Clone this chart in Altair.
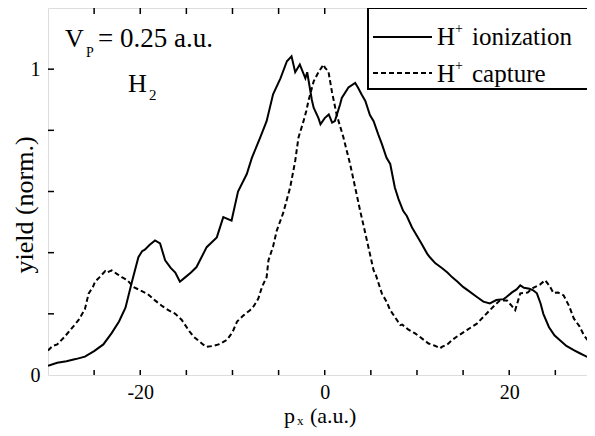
import altair as alt
import pandas as pd

# ---- data ----
ion_x = [-30.0, -29.0, -28.0, -27.0, -26.0, -25.0, -24.0, -23.1, -22.3, -21.6, -20.9, -20.2, -19.8, -19.5,
         -19.0, -18.4, -17.85, -17.3, -16.7, -16.2, -15.7, -15.1, -14.5, -13.9, -12.8, -11.7, -11.0, -10.1,
         -9.4, -8.45, -7.9, -7.0, -6.3, -5.6, -4.8, -4.1, -3.6, -3.2, -2.7, -2.1, -1.9, -1.4, -1.2, -0.68,
         -0.46, 0.0, 0.44, 0.8, 1.1, 1.67, 1.85, 2.57, 3.3, 3.6, 4.0, 4.4, 4.9, 5.3, 5.8, 6.2, 6.7, 7.1, 7.6,
         8.0, 8.5, 8.9, 9.45, 10.5, 11.1, 11.4, 12.0, 12.7, 13.3, 13.8, 14.4, 15.0, 15.6, 16.5, 17.2, 17.9,
         18.6, 19.4, 19.7, 20.3, 20.8, 21.2, 21.6, 22.2, 22.6, 23.0, 23.4, 23.7, 24.3, 24.9, 25.5, 26.2, 27.0,
         27.6, 28.4, 29.1, 29.3]
ion_y = [0.030, 0.040, 0.045, 0.052, 0.060, 0.078, 0.100, 0.137, 0.175, 0.220, 0.305, 0.385, 0.405, 0.410,
         0.425, 0.440, 0.430, 0.375, 0.350, 0.335, 0.305, 0.320, 0.335, 0.353, 0.418, 0.450, 0.516, 0.505,
         0.600, 0.657, 0.710, 0.776, 0.830, 0.918, 0.970, 1.026, 1.042, 0.990, 1.015, 0.970, 0.990, 0.900,
         0.874, 0.840, 0.820, 0.840, 0.852, 0.825, 0.830, 0.885, 0.906, 0.940, 0.955, 0.940, 0.917, 0.896,
         0.850, 0.830, 0.787, 0.755, 0.710, 0.690, 0.613, 0.575, 0.537, 0.520, 0.483, 0.429, 0.397, 0.385,
         0.365, 0.350, 0.335, 0.320, 0.305, 0.288, 0.275, 0.255, 0.240, 0.234, 0.245, 0.248, 0.255, 0.270,
         0.280, 0.293, 0.285, 0.282, 0.277, 0.267, 0.234, 0.200, 0.157, 0.130, 0.114, 0.095, 0.081, 0.072,
         0.060, 0.052, 0.050]

cap_x = [-30.0, -29.5, -29.0, -28.2, -27.5, -26.7, -26.0, -25.6, -25.1, -24.9, -24.4, -23.8, -23.6, -23.1,
         -22.5, -22.0, -21.4, -20.75, -20.0, -19.2, -18.4, -17.6, -16.95, -16.2, -15.5, -14.6, -14.2, -13.2,
         -12.8, -12.1, -11.5, -10.6, -10.0, -9.5, -8.8, -8.1, -7.7, -7.2, -6.8, -6.3, -6.1, -5.6, -5.2, -4.5,
         -3.75, -3.2, -2.85, -2.3, -2.0, -1.77, -1.2, -0.68, -0.13, 0.04, 0.4, 0.77, 1.3, 2.0, 2.75, 3.3, 3.84,
         4.2, 4.9, 5.3, 5.5, 6.2, 6.7, 7.1, 8.2, 8.4, 9.0, 9.8, 10.3, 11.25, 12.0, 12.5, 12.7, 13.3, 13.8,
         14.3, 15.4, 16.5, 17.2, 17.9, 18.5, 19.0, 19.75, 20.3, 20.65, 21.2, 22.0, 22.6, 23.3, 23.9, 24.4,
         24.8, 25.3, 25.9, 26.5, 27.0, 27.6, 28.1, 28.6, 29.1, 29.3]
cap_y = [0.080, 0.095, 0.100, 0.125, 0.150, 0.179, 0.215, 0.266, 0.290, 0.305, 0.320, 0.340, 0.335, 0.342,
         0.330, 0.320, 0.310, 0.288, 0.277, 0.265, 0.244, 0.225, 0.212, 0.200, 0.180, 0.140, 0.125, 0.100,
         0.092, 0.095, 0.100, 0.115, 0.140, 0.175, 0.195, 0.212, 0.225, 0.250, 0.288, 0.320, 0.375, 0.420,
         0.472, 0.530, 0.613, 0.700, 0.776, 0.830, 0.863, 0.896, 0.960, 0.990, 1.015, 1.004, 0.993, 0.928,
         0.850, 0.780, 0.690, 0.613, 0.537, 0.490, 0.396, 0.342, 0.331, 0.266, 0.240, 0.212, 0.163, 0.165,
         0.150, 0.136, 0.125, 0.103, 0.095, 0.087, 0.092, 0.100, 0.114, 0.125, 0.147, 0.168, 0.190, 0.212,
         0.230, 0.244, 0.244, 0.225, 0.212, 0.267, 0.270, 0.285, 0.295, 0.310, 0.290, 0.268, 0.270, 0.260,
         0.225, 0.185, 0.160, 0.130, 0.110, 0.090, 0.085]

x_minor_ticks = [-25, -20, -15, -10, -5, 0, 5, 10, 15, 20, 25]
y_minor_ticks = [0.2, 0.4, 0.6, 0.8, 1.0]
x_labels = [-20, 0, 20]
y_labels = [0, 1]

W, H = 547, 367
FONT = "Liberation Serif"
XDOM = [-30, 29.3]
YDOM = [0, 1.2]

ion = pd.DataFrame({"px": ion_x, "y": ion_y})
cap = pd.DataFrame({"px": cap_x, "y": cap_y})
xt = pd.DataFrame({"v": x_minor_ticks})
yt = pd.DataFrame({"v": y_minor_ticks})

xs = alt.Scale(domain=XDOM, nice=False, zero=False)
ys = alt.Scale(domain=YDOM, nice=False, zero=False)

xaxis = alt.Axis(values=x_labels, ticks=False, domain=False, grid=False, labelFont=FONT,
                 labelFontSize=20, labelColor="black", labelPadding=7, title=None,
                 labelExpr="'' + datum.value")
yaxis = alt.Axis(values=y_labels, ticks=False, domain=False, grid=False, labelFont=FONT,
                 labelFontSize=20, labelColor="black", labelPadding=8, title=None,
                 labelExpr="'' + datum.value")

ion_line = alt.Chart(ion).mark_line(color="black", strokeWidth=2, clip=True).encode(
    x=alt.X("px:Q", scale=xs, axis=xaxis),
    y=alt.Y("y:Q", scale=ys, axis=yaxis),
)
cap_line = alt.Chart(cap).mark_line(color="black", strokeWidth=2, strokeDash=[5, 3], clip=True).encode(
    x=alt.X("px:Q", scale=xs),
    y=alt.Y("y:Q", scale=ys),
)

bt = alt.Chart(xt).mark_rule(color="black", strokeWidth=1.5).encode(
    x=alt.X("v:Q", scale=xs), y=alt.value(H), y2=alt.value(H - 5))
tt = alt.Chart(xt).mark_rule(color="black", strokeWidth=1.5).encode(
    x=alt.X("v:Q", scale=xs), y=alt.value(0), y2=alt.value(6))
lt = alt.Chart(yt).mark_rule(color="black", strokeWidth=1.5).encode(
    y=alt.Y("v:Q", scale=ys), x=alt.value(0), x2=alt.value(6))

def txt(s, x, y, size=24, **kw):
    return alt.Chart(pd.DataFrame({"t": [s]})).mark_text(
        font=FONT, fontSize=size, color="black", align=kw.pop("align", "left"),
        baseline=kw.pop("baseline", "alphabetic"), **kw).encode(
        text="t:N", x=alt.value(x), y=alt.value(y))

# legend box and samples
box = alt.Chart(pd.DataFrame({"a": [0]})).mark_rect(fill="white", stroke="black", strokeWidth=2).encode(
    x=alt.value(320), x2=alt.value(W + 40), y=alt.value(0), y2=alt.value(81))
s1 = alt.Chart(pd.DataFrame({"a": [0]})).mark_rule(color="black", strokeWidth=2).encode(
    x=alt.value(325), x2=alt.value(384), y=alt.value(29))
s2 = alt.Chart(pd.DataFrame({"a": [0]})).mark_rule(color="black", strokeWidth=2, strokeDash=[5, 3]).encode(
    x=alt.value(325), x2=alt.value(384), y=alt.value(65))

texts = [
    txt("H", 389, 37, size=25), txt("+", 407, 25, size=14), txt("ionization", 424, 37, size=25),
    txt("H", 389, 74, size=25), txt("+", 407, 62, size=14), txt("capture", 424, 74, size=25),
    txt("V", 17, 39, size=26), txt("P", 38, 49, size=14), txt("= 0.25 a.u.", 50, 39, size=27),
    txt("H", 80, 84, size=26), txt("2", 101, 92, size=15),
    txt("p", 236, 415, size=22), txt("x", 249, 417, size=13), txt("(a.u.)", 262, 415, size=22),
    txt("yield (norm.)", -15, 197, size=26, align="center", angle=270),
]

chart = alt.layer(ion_line, cap_line, bt, tt, lt, box, s1, s2, *texts).properties(
    width=W, height=H,
    autosize=alt.AutoSizeParams(type="none"),
    padding={"left": 40, "top": 0, "right": -8, "bottom": 53},
).configure_view(stroke="black", strokeWidth=2).configure(background="white")

chart.save("out.html", embed_options={"renderer": "svg", "actions": False})
